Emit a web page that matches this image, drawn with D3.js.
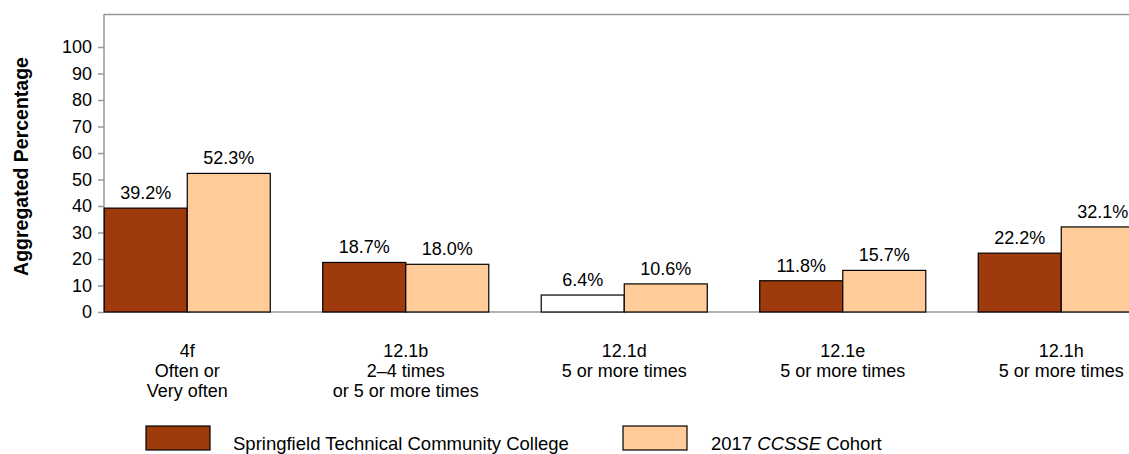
<!DOCTYPE html>
<html><head><meta charset="utf-8">
<script src="https://cdn.jsdelivr.net/npm/d3@7"></script>
<style>
body{margin:0;background:#fff;}
text{font-family:"Liberation Sans",Arial,sans-serif;fill:#000;}
</style></head>
<body><svg id="c" width="1129" height="454"></svg>
<script>
const categories = ["4f","12.1b","12.1d","12.1e","12.1h"];
const categoryLines = [["4f","Often or","Very often"],["12.1b","2–4 times","or 5 or more times"],["12.1d","5 or more times"],["12.1e","5 or more times"],["12.1h","5 or more times"]];
const seriesNames = ["Springfield Technical Community College","2017 CCSSE Cohort"];
const collegeValues = [39.2, 18.7, 6.4, 11.8, 22.2];
const cohortValues = [52.3, 18.0, 10.6, 15.7, 32.1];
const collegeHighlight = [true, true, false, true, true];
const yTicks = [0,10,20,30,40,50,60,70,80,90,100];

const svg = d3.select("#c");
const colors = ["#9E3A0C","#FFCC99"];
const y = d3.scaleLinear().domain([0,100]).range([312,47]);
const x0 = d3.scaleBand().domain(categories).range([78,1170.5]).paddingInner(0.24).paddingOuter(0.12);
const x1 = d3.scaleBand().domain([0,1]).range([0,x0.bandwidth()]);
const axisColor = "#999";
const FS = 18;

svg.append("line").attr("x1",104).attr("x2",1129).attr("y1",14.5).attr("y2",14.5).attr("stroke",axisColor).attr("stroke-width",1.5);
svg.append("line").attr("x1",104).attr("x2",1129).attr("y1",y(0)).attr("y2",y(0)).attr("stroke",axisColor).attr("stroke-width",1.5);

const yAxis = d3.axisLeft(y).tickValues(yTicks).tickSize(6).tickPadding(6);
const ga = svg.append("g").attr("transform","translate(104,0)").call(yAxis);
ga.select(".domain").attr("d","M0,14V"+y(0)).attr("stroke",axisColor).attr("stroke-width",1.5);
ga.selectAll(".tick line").attr("stroke",axisColor).attr("stroke-width",1.5);
ga.selectAll(".tick text").attr("font-size",FS).attr("font-family","Liberation Sans, Arial, sans-serif").attr("fill","#000");

svg.append("text").attr("transform","translate(28,166.5) rotate(-90)").attr("text-anchor","middle")
  .attr("font-size",19.5).attr("font-weight","bold").text("Aggregated Percentage");

const data = categories.map((c,i)=>({c, vals:[collegeValues[i], cohortValues[i]], hi: collegeHighlight[i]}));
const g = svg.selectAll(".grp").data(data).enter().append("g").attr("transform",d=>`translate(${x0(d.c)},0)`);
g.selectAll("rect").data(d=>d.vals.map((v,k)=>({v,k,hi:d.hi}))).enter().append("rect")
  .attr("x",d=>x1(d.k)).attr("width",x1.bandwidth()).attr("y",d=>y(d.v)).attr("height",d=>y(0)-y(d.v))
  .attr("fill",d=> d.k===0 && !d.hi ? "#fff" : colors[d.k]).attr("stroke","#000").attr("stroke-width",1.2);
g.selectAll(".lbl").data(d=>d.vals.map((v,k)=>({v,k}))).enter().append("text")
  .attr("x",d=>x1(d.k)+x1.bandwidth()/2).attr("y",d=>y(d.v)-9).attr("text-anchor","middle")
  .attr("font-size",FS).text(d=>d.v.toFixed(1)+"%");

categories.forEach((c,i)=>{
  const cx = x0(c)+x0.bandwidth()/2;
  const t = svg.append("text").attr("x",cx).attr("y",357).attr("text-anchor","middle").attr("font-size",FS);
  categoryLines[i].forEach((ln,j)=>t.append("tspan").attr("x",cx).attr("dy",j?20:0).text(ln));
});

const lg = svg.append("g");
[146,623].forEach((lx,k)=>{
  lg.append("rect").attr("x",lx).attr("y",426).attr("width",64).attr("height",24).attr("fill",colors[k]).attr("stroke","#000").attr("stroke-width",1.2);
});
lg.append("text").attr("x",233).attr("y",450).attr("font-size",18.5).text(seriesNames[0]);
const t2 = lg.append("text").attr("x",711).attr("y",450).attr("font-size",18.5);
t2.append("tspan").text("2017 ");
t2.append("tspan").attr("font-style","italic").text("CCSSE");
t2.append("tspan").text(" Cohort");
</script></body></html>
